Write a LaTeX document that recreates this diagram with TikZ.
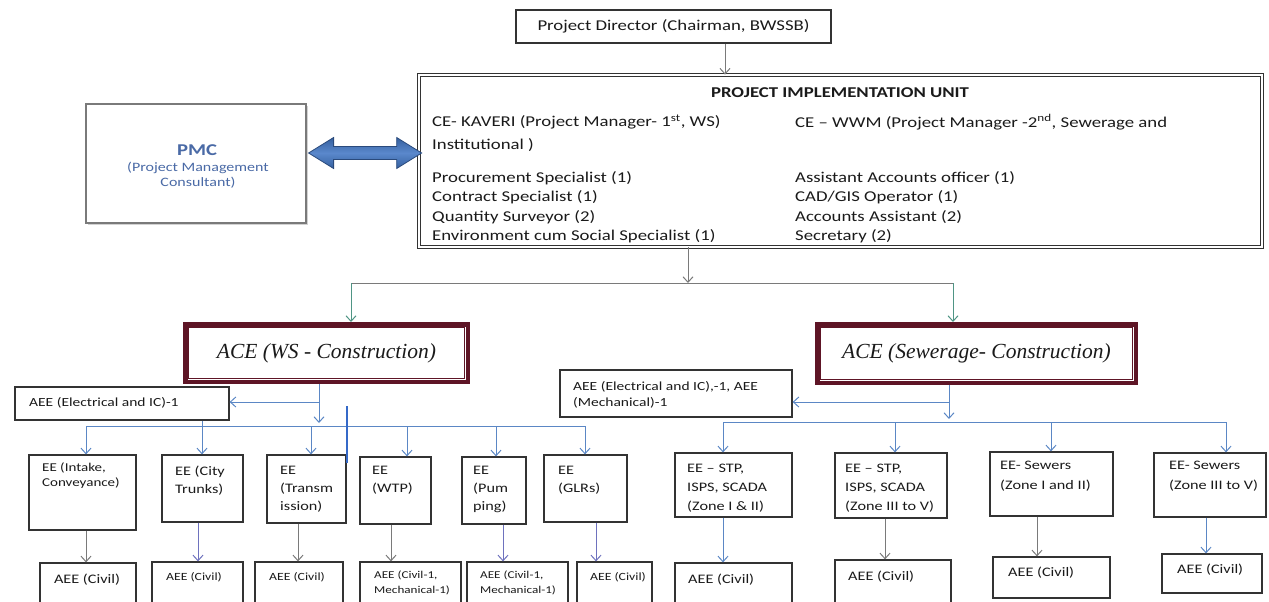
\documentclass[tikz,border=0pt]{standalone}
\usepackage{fontspec}
\setmainfont{Carlito}[FakeStretch=1.25]
\newfontfamily\acefont{Liberation Serif}
\usetikzlibrary{arrows.meta,shadows,calc}
\newcommand\myfs[2]{\fontsize{#1}{#2}\selectfont}
\definecolor{boxc}{HTML}{333333}
\definecolor{txtc}{HTML}{1A1A1A}
\definecolor{cgray}{HTML}{7A7A7A}
\definecolor{cblue}{HTML}{5B87C5}
\definecolor{cteal}{HTML}{4F9585}
\definecolor{cviol}{HTML}{6E72BE}
\definecolor{acered}{HTML}{5E1526}
\definecolor{pmcblue}{HTML}{4A6AA6}
\definecolor{arrbl}{HTML}{5A88CC}
\definecolor{arrmd}{HTML}{35609F}
\definecolor{arrdk}{HTML}{2A4A7C}
\definecolor{stray}{HTML}{3569C8}
\begin{document}
\begin{tikzpicture}[x=1pt,y=-1pt,
  box/.style 2 args={draw=boxc, line width=1.2pt, fill=white, inner sep=0, minimum width=#1, minimum height=#2, text=txtc},
  txt/.style={inner sep=0, align=left, anchor=north west, text=txtc},
  stxt/.style={inner sep=0, anchor=west, text=txtc},
  ctxt/.style={inner sep=0, text=txtc},
  arrowhd/.style={-{Straight Barb[length=5.5pt,width=10pt]}},
  lnG/.style={draw=cgray, line width=1pt},
  lnB/.style={draw=cblue, line width=1pt},
  lnT/.style={draw=cteal, line width=1pt},
  lnV/.style={draw=cviol, line width=1pt},
  ace/.style={draw=acered, line width=4.5pt, fill=white, inner sep=0, text=txtc, font=\acefont\itshape\myfs{21.5}{24}},
  acein/.style={draw=acered, line width=1.2pt}
]
\useasboundingbox (0,0) rectangle (1269,602);
\fill[white] (0,0) rectangle (1269,602);
\clip (0,0) rectangle (1269,602);

% ---- top ----
\node[box={315}{33}, font=\myfs{15}{18}] (pd) at (673.5,26.5) {Project Director (Chairman, BWSSB)};
\node[draw=boxc, double, double distance=2.2pt, line width=0.7pt, inner sep=0, minimum width=843, minimum height=172] (piu) at (840.5,161) {};
\node[ctxt, font=\bfseries\myfs{15}{17}] (piutitle) at (840,93) {PROJECT IMPLEMENTATION UNIT};
\node[txt, font=\myfs{15}{23}] (piul1) at (432,114.5) {CE- KAVERI (Project Manager- 1\textsuperscript{st}, WS)\\Institutional )};
\node[txt, font=\myfs{15}{19.2}] (piul2) at (432,171.5) {Procurement Specialist (1)\\Contract Specialist (1)\\Quantity Surveyor (2)\\Environment cum Social Specialist (1)};
\node[txt, font=\myfs{15}{23}] (piur1) at (795,114.5) {CE -- WWM (Project Manager -2\textsuperscript{nd}, Sewerage and};
\node[txt, font=\myfs{15}{19.2}] (piur2) at (795,171.5) {Assistant Accounts officer (1)\\CAD/GIS Operator (1)\\Accounts Assistant (2)\\Secretary (2)};

\node[box={220}{119}, draw=cgray, drop shadow={shadow xshift=2pt, shadow yshift=-2pt, opacity=0.35, fill=gray}] (pmc) at (196,163.5) {};
\node[ctxt, text=pmcblue, font=\bfseries\myfs{16.5}{18}] (pmct) at (197,150) {PMC};
\node[ctxt, text=pmcblue, align=center, font=\myfs{12.8}{14.5}] (pmcs) at (198,175) {(Project Management\\Consultant)};

% double block arrow between PMC and PIU
\coordinate (ay) at (0,153);
\coordinate (al) at ($(pmc.east |- ay)+(2,0)$);
\coordinate (ar) at ($(piu.west |- ay)+(3,0)$);
\path[draw=arrdk, line width=0.8pt, top color=arrmd, bottom color=arrmd, middle color=arrbl]
  (al) -- ++(25,-15.5) -- ++(0,9) -- ($(ar)+(-25,-6.5)$) -- ++(0,-9) -- (ar)
  -- ++(-25,15.5) -- ++(0,-9) -- ($(al)+(25,6.5)$) -- ++(0,9) -- cycle;

\coordinate (xpd) at (725,0);
\draw[lnG, arrowhd] (xpd |- pd.south) -- (xpd |- piu.north);

% ---- ACE ----
\node[ace, minimum width=282.5, minimum height=57.5] (acews) at (326.5,353) {ACE (WS - Construction)};
\node[ace, minimum width=318.5, minimum height=58.5] (acesew) at (976.5,353.5) {ACE (Sewerage- Construction)};
\draw[acein] ([shift={(5.5,5.5)}]acews.north west) rectangle ([shift={(-5.5,-5.5)}]acews.south east);
\draw[acein] ([shift={(5.5,5.5)}]acesew.north west) rectangle ([shift={(-5.5,-5.5)}]acesew.south east);

\coordinate (xpiu) at (688,0);
\coordinate (topL) at (351,283);
\coordinate (topR) at (953,283);
\draw[lnG, arrowhd] (xpiu |- piu.south) -- (xpiu |- topL);
\draw[lnG] (topL) -- (topR);
\draw[lnT, arrowhd] (topL) -- (topL |- acews.north);
\draw[lnT, arrowhd] (topR) -- (topR |- acesew.north);

% ---- WS side ----
\node[box={214}{33}] (aeews) at (122,403.5) {};
\node[stxt, font=\myfs{12.4}{15}] (aeewst) at (29,402.5) {AEE (Electrical and IC)-1};
\coordinate (wsbusL) at (86,426);
\coordinate (wsbusR) at (585,426);
\coordinate (hw) at (319,402);
\draw[lnB, arrowhd] (hw |- acews.south) -- ($(hw |- wsbusL)+(0,-3)$);
\draw[lnB, arrowhd] (hw) -- (hw -| aeews.east);
\draw[lnB] (wsbusL) -- (wsbusR);

\node[box={107}{75}] (e1) at (82.5,492.5) {};
\node[box={81}{67}] (e2) at (202.5,488.5) {};
\node[box={79}{68}] (e3) at (306.5,489) {};
\node[box={71}{67}] (e4) at (395.5,490.5) {};
\node[box={64}{67}] (e5) at (494,490.5) {};
\node[box={83}{67}] (e6) at (585.5,488.5) {};
\node[txt, font=\myfs{12}{15}] (e1t) at (42,462.6) {EE (Intake,\\Conveyance)};
\node[txt, font=\myfs{13}{18}] (e2t) at (175,466) {EE (City\\Trunks)};
\node[txt, font=\myfs{13}{18}] (e3t) at (280,466) {EE\\(Transm\\ission)};
\node[txt, font=\myfs{13}{18}] (e4t) at (372,466) {EE\\(WTP)};
\node[txt, font=\myfs{13}{18}] (e5t) at (473,466) {EE\\(Pum\\ping)};
\node[txt, font=\myfs{13}{18}] (e6t) at (558,466) {EE\\(GLRs)};

\coordinate (w1) at (86,0);
\coordinate (w2) at (202,0);
\coordinate (w3) at (311,0);
\coordinate (w4) at (407,0);
\coordinate (w5) at (496,0);
\coordinate (w6) at (585,0);
\draw[lnB] (w2 |- aeews.south) -- (w2 |- wsbusL);
\draw[lnB, arrowhd] (w1 |- wsbusL) -- (w1 |- e1.north);
\draw[lnB, arrowhd] (w2 |- wsbusL) -- (w2 |- e2.north);
\draw[lnB, arrowhd] (w3 |- wsbusL) -- (w3 |- e3.north);
\draw[lnB, arrowhd] (w4 |- wsbusL) -- (w4 |- e4.north);
\draw[lnB, arrowhd] (w5 |- wsbusL) -- (w5 |- e5.north);
\draw[lnB, arrowhd] (w6 |- wsbusL) -- (w6 |- e6.north);

\coordinate (s0a) at (347,406);
\coordinate (s0b) at (347,463);
\draw[draw=stray, line width=1.5pt] (s0a) -- (s0b);

\node[box={96}{57}] (a1) at (88,591.5) {};
\node[box={91}{58}] (a2) at (197.5,591) {};
\node[box={88}{58}] (a3) at (299,591) {};
\node[box={101}{58}] (a4) at (410.5,591) {};
\node[box={101}{58}] (a5) at (517.5,591) {};
\node[box={75}{58}] (a6) at (614.5,591) {};
\node[ctxt, font=\myfs{13}{15}] (a1t) at (87,580) {AEE (Civil)};
\node[ctxt, font=\myfs{11}{13}] (a2t) at (194,577) {AEE (Civil)};
\node[ctxt, font=\myfs{11}{13}] (a3t) at (297,577) {AEE (Civil)};
\node[txt, font=\myfs{10.5}{15}] (a4t) at (374,570.3) {AEE (Civil-1,\\Mechanical-1)};
\node[txt, font=\myfs{10.5}{15}] (a5t) at (480,570.3) {AEE (Civil-1,\\Mechanical-1)};
\node[ctxt, font=\myfs{11}{13}] (a6t) at (618,577) {AEE (Civil)};

\coordinate (v1) at (86,0);
\coordinate (v2) at (198,0);
\coordinate (v3) at (298,0);
\coordinate (v4) at (391,0);
\coordinate (v5) at (503,0);
\coordinate (v6) at (596,0);
\draw[lnG, arrowhd] (v1 |- e1.south) -- (v1 |- a1.north);
\draw[lnV, arrowhd] (v2 |- e2.south) -- (v2 |- a2.north);
\draw[lnG, arrowhd] (v3 |- e3.south) -- (v3 |- a3.north);
\draw[lnG, arrowhd] (v4 |- e4.south) -- (v4 |- a4.north);
\draw[lnV, arrowhd] (v5 |- e5.south) -- (v5 |- a5.north);
\draw[lnV, arrowhd] (v6 |- e6.south) -- (v6 |- a6.north);

% ---- Sewerage side ----
\node[box={232}{47}] (aees) at (676,393.5) {};
\node[txt, font=\myfs{12.4}{16}] (aeest) at (573,381.7) {AEE (Electrical and IC),-1, AEE\\(Mechanical)-1};
\coordinate (swbusL) at (723,422);
\coordinate (swbusR) at (1226,422);
\coordinate (hs) at (949,402);
\draw[lnB, arrowhd] (hs |- acesew.south) -- ($(hs |- swbusL)+(0,-3)$);
\draw[lnB, arrowhd] (hs) -- (hs -| aees.east);
\draw[lnB] (swbusL) -- (swbusR);

\node[box={117}{64}] (s1) at (733.5,485) {};
\node[box={112}{65}] (s2) at (891,485.5) {};
\node[box={123}{64}] (s3) at (1051.5,484) {};
\node[box={112}{64}] (s4) at (1210,485) {};
\node[txt, font=\myfs{13}{19}] (s1t) at (687,464) {EE -- STP,\\ISPS, SCADA\\(Zone I \& II)};
\node[txt, font=\myfs{13}{19}] (s2t) at (845,464) {EE -- STP,\\ISPS, SCADA\\(Zone III to V)};
\node[txt, font=\myfs{13}{20}] (s3t) at (1000,461) {EE- Sewers\\(Zone I and II)};
\node[txt, font=\myfs{13}{20}] (s4t) at (1169,461) {EE- Sewers\\(Zone III to V)};

\coordinate (d1) at (723,0);
\coordinate (d2) at (895,0);
\coordinate (d3) at (1051,0);
\coordinate (d4) at (1226,0);
\draw[lnB, arrowhd] (d1 |- swbusL) -- (d1 |- s1.north);
\draw[lnB, arrowhd] (d2 |- swbusL) -- (d2 |- s2.north);
\draw[lnB, arrowhd] (d3 |- swbusL) -- (d3 |- s3.north);
\draw[lnB, arrowhd] (d4 |- swbusL) -- (d4 |- s4.north);

\node[box={117}{57}] (b1) at (733.5,591.5) {};
\node[box={116}{60}] (b2) at (893,590) {};
\node[box={117}{41}] (b3) at (1051.5,577.5) {};
\node[box={100}{39}] (b4) at (1212,573.5) {};
\node[stxt, font=\myfs{13}{15}] (b1t) at (688,580) {AEE (Civil)};
\node[stxt, font=\myfs{13}{15}] (b2t) at (848,577) {AEE (Civil)};
\node[stxt, font=\myfs{13}{15}] (b3t) at (1008,573) {AEE (Civil)};
\node[stxt, font=\myfs{13}{15}] (b4t) at (1177,570) {AEE (Civil)};

\coordinate (u1) at (723,0);
\coordinate (u2) at (885,0);
\coordinate (u3) at (1037,0);
\coordinate (u4) at (1206,0);
\draw[lnB, arrowhd] (u1 |- s1.south) -- (u1 |- b1.north);
\draw[lnG, arrowhd] (u2 |- s2.south) -- (u2 |- b2.north);
\draw[lnG, arrowhd] (u3 |- s3.south) -- (u3 |- b3.north);
\draw[lnB, arrowhd] (u4 |- s4.south) -- (u4 |- b4.north);
\end{tikzpicture}
\end{document}
